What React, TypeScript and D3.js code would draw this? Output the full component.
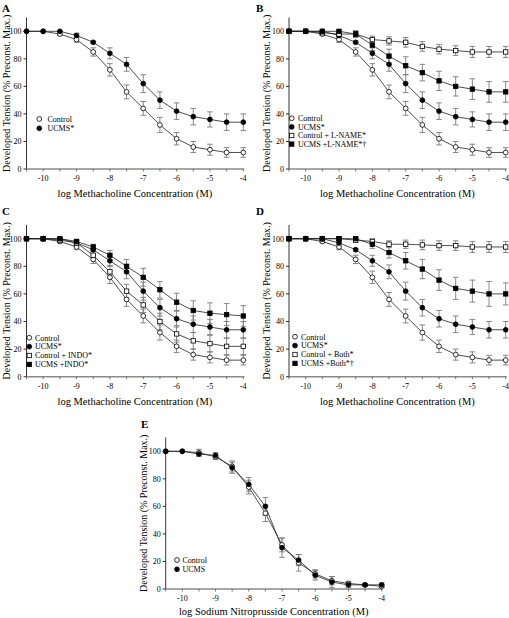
import React from 'react';
import * as d3 from 'd3';

// log concentration (x values, shared by every curve)
const logConc = [-10.5, -10, -9.5, -9, -8.5, -8, -7.5, -7, -6.5, -6, -5.5, -5, -4.5, -4];
const xTicks = [-10, -9, -8, -7, -6, -5, -4];
const yTicks = [0, 20, 40, 60, 80, 100];

// Methacholine responses
const controlMch = [100, 100, 98, 94, 85, 72, 56, 44, 32, 22, 16, 14, 12, 12];
const controlMchErr = [0, 0, 1, 2, 3, 4.5, 5, 5, 5.5, 4.5, 4, 4, 3.5, 3.5];
const ucmsMch = [100, 100, 100, 97, 92, 84, 76, 62, 50, 42, 38, 36, 34, 34];
const ucmsMchErr = [0, 0, 0.5, 1.5, 1, 4, 5, 6.5, 6, 6, 6, 5.5, 6, 6];

const controlLName = [100, 100, 99, 98, 98, 94, 93, 92, 89, 87, 86, 85, 85, 85];
const controlLNameErr = [0, 0, 0, 1.5, 2.5, 2.5, 3, 3.5, 3.5, 3.5, 3.5, 4, 4, 4];
const ucmsLName = [100, 100, 100, 100, 98, 90, 82, 75, 70, 64, 60, 58, 56, 56];
const ucmsLNameErr = [0, 0, 0, 1, 2, 4, 5, 6.5, 6, 7, 7, 7.5, 7.5, 7.5];

const controlIndo = [100, 100, 99, 97, 88, 76, 62, 52, 40, 31, 26, 24, 22, 22];
const controlIndoErr = [0, 0, 1, 2, 3, 4.5, 5, 5.5, 6, 6, 6, 6, 6, 6];
const ucmsIndo = [100, 100, 100, 98, 94, 88, 80, 72, 63, 54, 48, 46, 45, 44];
const ucmsIndoErr = [0, 0, 0.5, 1.5, 2, 3.5, 5, 6.5, 6, 6.5, 7, 7.5, 8, 7.5];

const controlBoth = [100, 100, 100, 100, 99, 98, 96, 96, 95.5, 95, 95, 94, 94, 94];
const controlBothErr = [0, 0, 0, 1, 1.5, 2, 2.5, 3, 3.5, 3.5, 3.5, 4, 4, 4];
const ucmsBoth = [100, 100, 100, 100, 100, 96, 90, 84, 78, 70, 64, 62, 60, 60];
const ucmsBothErr = [0, 0, 0, 1, 1, 3, 4, 6, 7, 7.5, 8, 8, 9, 8];

// Sodium nitroprusside responses
const controlSnp = [100, 100, 99, 96, 89, 74, 55, 32, 19, 11, 6, 4, 3, 2];
const controlSnpErr = [0, 0, 2.5, 2, 4, 5, 6, 5, 6, 3, 3, 1.5, 1, 1];
const ucmsSnp = [100, 100, 98, 97, 88, 76, 60, 30, 21, 10, 5, 3, 3, 3];
const ucmsSnpErr = [0, 0, 1.5, 2, 4, 5, 6.5, 7, 4, 3.5, 4, 2, 1, 1.5];

type Marker = 'circleOpen' | 'circleFilled' | 'squareOpen' | 'squareFilled';
type Series = { name: string; values: number[]; errors: number[]; marker: Marker };

const sControl = (name: string): Series => ({ name, values: controlMch, errors: controlMchErr, marker: 'circleOpen' });
const sUcms = (name: string): Series => ({ name, values: ucmsMch, errors: ucmsMchErr, marker: 'circleFilled' });

const panels = [
  {
    letter: 'A', xLabel: 'log Methacholine Concentration (M)',
    series: [sControl('Control'), sUcms('UCMS*')],
    layout: { x0: 26.5, x1: 243.3, y0: 169, y100: 31.3, lx: 39.3, ly: 119, ldy: 9.3, tx: 47.5, ylx: 6, letterX: 2, letterY: 12, xlOff: 28 },
  },
  {
    letter: 'B', xLabel: 'log Methacholine Concentration (M)',
    series: [sControl('Control'), sUcms('UCMS*'),
      { name: 'Control + L-NAME*', values: controlLName, errors: controlLNameErr, marker: 'squareOpen' as Marker },
      { name: 'UCMS +L-NAME*†', values: ucmsLName, errors: ucmsLNameErr, marker: 'squareFilled' as Marker }],
    layout: { x0: 289, x1: 505.7, y0: 169, y100: 31.3, lx: 291.7, ly: 118.3, ldy: 8.6, tx: 298, ylx: 266, letterX: 256, letterY: 12, xlOff: 28 },
  },
  {
    letter: 'C', xLabel: 'log Methacholine Concentration (M)',
    series: [sControl('Control'), sUcms('UCMS*'),
      { name: 'Control + INDO*', values: controlIndo, errors: controlIndoErr, marker: 'squareOpen' as Marker },
      { name: 'UCMS +INDO*', values: ucmsIndo, errors: ucmsIndoErr, marker: 'squareFilled' as Marker }],
    layout: { x0: 26.5, x1: 243.3, y0: 376.7, y100: 238.7, lx: 29.3, ly: 337.7, ldy: 8.9, tx: 35, ylx: 6, letterX: 2, letterY: 215, xlOff: 28 },
  },
  {
    letter: 'D', xLabel: 'log Methacholine Concentration (M)',
    series: [sControl('Control'), sUcms('UCMS*'),
      { name: 'Control + Both*', values: controlBoth, errors: controlBothErr, marker: 'squareOpen' as Marker },
      { name: 'UCMS +Both*†', values: ucmsBoth, errors: ucmsBothErr, marker: 'squareFilled' as Marker }],
    layout: { x0: 289, x1: 505.7, y0: 376.7, y100: 238.7, lx: 295, ly: 336.7, ldy: 8.9, tx: 301, ylx: 266, letterX: 256, letterY: 215, xlOff: 28 },
  },
  {
    letter: 'E', xLabel: 'log Sodium Nitroprusside Concentration (M)',
    series: [
      { name: 'Control', values: controlSnp, errors: controlSnpErr, marker: 'circleOpen' as Marker },
      { name: 'UCMS', values: ucmsSnp, errors: ucmsSnpErr, marker: 'circleFilled' as Marker }],
    layout: { x0: 165.7, x1: 381.7, y0: 589, y100: 451.3, lx: 177, ly: 560, ldy: 9.3, tx: 182.5, ylx: 143.5, letterX: 141, letterY: 428, xlOff: 25.5 },
  },
];

const FONT = '"Liberation Serif", "Times New Roman", serif';

function MarkerGlyph({ type, cx, cy }: { type: Marker; cx: number; cy: number }) {
  const filled = type === 'circleFilled' || type === 'squareFilled';
  const fill = filled ? '#000' : '#fff';
  if (type === 'circleOpen' || type === 'circleFilled') {
    return <circle cx={cx} cy={cy} r={2.4} fill={fill} stroke="#000" strokeWidth={0.8} />;
  }
  const s = 4.4;
  return <rect x={cx - s / 2} y={cy - s / 2} width={s} height={s} fill={fill} stroke="#000" strokeWidth={0.8} />;
}

function Panel({ p }: { p: typeof panels[number] }) {
  const L = p.layout;
  const x = d3.scaleLinear().domain([-10.5, -4]).range([L.x0, L.x1]);
  const y = d3.scaleLinear().domain([0, 100]).range([L.y0, L.y100]);
  const line = d3.line<number>().x((_, i) => x(logConc[i])).y((v) => y(v));
  const minor = d3.range(-10.5, -3.99, 0.5);
  const yTop = y(110);
  return (
    <g fontFamily={FONT}>
      <text x={L.letterX} y={L.letterY} fontSize={11} fontWeight="bold">{p.letter}</text>
      {/* y axis */}
      <line x1={L.x0} x2={L.x0} y1={yTop} y2={L.y0} stroke="#000" strokeWidth={0.8} />
      {yTicks.map((t) => (
        <g key={t}>
          <line x1={L.x0 - 3} x2={L.x0} y1={y(t)} y2={y(t)} stroke="#000" strokeWidth={0.8} />
          <text x={L.x0 - 5} y={y(t) + 2.8} fontSize={8} textAnchor="end">{t}</text>
        </g>
      ))}
      <text transform={`translate(${L.ylx},${(yTop + L.y0) / 2}) rotate(-90)`} fontSize={10} textAnchor="middle" dominantBaseline="central">
        Developed Tension (% Preconst. Max.)
      </text>
      {/* x axis */}
      <line x1={L.x0} x2={L.x1 + 1} y1={L.y0} y2={L.y0} stroke="#8a8a8a" strokeWidth={1.6} />
      {minor.map((t) => (
        <line key={t} x1={x(t)} x2={x(t)} y1={L.y0} y2={L.y0 + 2.5} stroke="#555" strokeWidth={0.8} />
      ))}
      {xTicks.map((t) => (
        <text key={t} x={x(t)} y={L.y0 + 12} fontSize={8} textAnchor="middle">{t}</text>
      ))}
      <text x={(L.x0 + L.x1) / 2} y={L.y0 + L.xlOff} fontSize={10.5} textAnchor="middle">{p.xLabel}</text>
      {/* lines */}
      {p.series.map((s) => (
        <path key={s.name + 'l'} d={line(s.values) || ''} fill="none" stroke="#222" strokeWidth={0.8} />
      ))}
      {/* error bars */}
      {p.series.map((s) => (
        <g key={s.name + 'e'} stroke="#7a7a7a" strokeWidth={0.9}>
          {s.values.map((v, i) => s.errors[i] > 0 ? (
            <g key={i}>
              <line x1={x(logConc[i])} x2={x(logConc[i])} y1={y(v - s.errors[i])} y2={y(v + s.errors[i])} />
              <line x1={x(logConc[i]) - 2.8} x2={x(logConc[i]) + 2.8} y1={y(v - s.errors[i])} y2={y(v - s.errors[i])} />
              <line x1={x(logConc[i]) - 2.8} x2={x(logConc[i]) + 2.8} y1={y(v + s.errors[i])} y2={y(v + s.errors[i])} />
            </g>
          ) : null)}
        </g>
      ))}
      {/* markers */}
      {p.series.map((s) => (
        <g key={s.name + 'm'}>
          {s.values.map((v, i) => <MarkerGlyph key={i} type={s.marker} cx={x(logConc[i])} cy={y(v)} />)}
        </g>
      ))}
      {/* legend */}
      {p.series.map((s, i) => (
        <g key={s.name + 'lg'}>
          <MarkerGlyph type={s.marker} cx={L.lx} cy={L.ly + i * L.ldy} />
          <text x={L.tx} y={L.ly + i * L.ldy + 2.8} fontSize={8}>{s.name}</text>
        </g>
      ))}
    </g>
  );
}

export default function App() {
  return (
    <svg width={509} height={618} style={{ position: 'absolute', left: 0, top: 0, background: '#fff' }}>
      <rect width={509} height={618} fill="#fff" />
      {panels.map((p) => <Panel key={p.letter} p={p} />)}
    </svg>
  );
}
